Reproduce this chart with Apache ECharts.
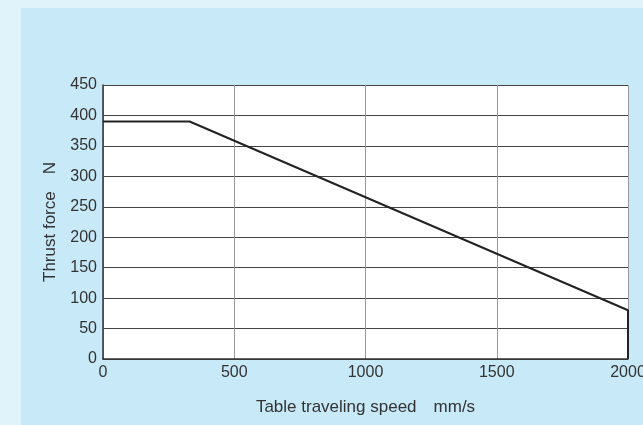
<!DOCTYPE html>
<html>
<head>
<meta charset="utf-8">
<script src="https://cdn.jsdelivr.net/npm/echarts@6/dist/echarts.min.js"></script>
<style>html,body{margin:0;padding:0;}#c{width:643px;height:425px;}</style>
</head>
<body>
<div id="c"></div>
<script>
const speed = [0, 330, 2000, 2000];
const thrust = [390, 390, 80, 0];
const xTicks = [0, 500, 1000, 1500, 2000];
const yTicks = [0, 50, 100, 150, 200, 250, 300, 350, 400, 450];
const xName = 'Table traveling speed\u2003mm/s';
const yName = 'Thrust force\u2003N';

const chart = echarts.init(document.getElementById('c'), null, {renderer: 'canvas'});
const font = 'Liberation Sans, Arial, Helvetica, sans-serif';
chart.setOption({
  backgroundColor: '#e0f2fa',
  animation: false,
  graphic: [{
    type: 'rect', z: -10, silent: true,
    shape: {x: 21, y: 8, width: 700, height: 500},
    style: {fill: '#c7e9f8'}
  }],
  grid: {left: 103, right: 15, top: 85, bottom: 66, show: true, backgroundColor: '#fff', borderWidth: 0,
         containLabel: false, outerBoundsMode: 'none'},
  xAxis: {
    type: 'value', min: xTicks[0], max: xTicks[xTicks.length - 1], interval: xTicks[1] - xTicks[0],
    name: xName, nameLocation: 'middle', nameGap: 40,
    nameTextStyle: {color: '#333', fontSize: 17, fontFamily: font},
    axisLine: {show: true, lineStyle: {color: '#333', width: 1.5}},
    axisTick: {show: false},
    axisLabel: {color: '#333', fontSize: 16, fontFamily: font, margin: 6, formatter: v => String(v)},
    splitLine: {show: true, lineStyle: {color: '#999', width: 1}}
  },
  yAxis: {
    type: 'value', min: yTicks[0], max: yTicks[yTicks.length - 1], interval: yTicks[1] - yTicks[0],
    name: yName, nameLocation: 'middle', nameGap: 44, nameRotate: 90,
    nameTextStyle: {color: '#333', fontSize: 17, fontFamily: font},
    axisLine: {show: true, lineStyle: {color: '#333', width: 1.5}},
    axisTick: {show: false},
    axisLabel: {color: '#333', fontSize: 16, fontFamily: font, margin: 6, formatter: v => String(v)},
    splitLine: {show: true, lineStyle: {color: '#444', width: 1}}
  },
  series: [{
    type: 'line',
    data: speed.map((s, i) => [s, thrust[i]]),
    symbol: 'none',
    lineStyle: {color: '#222', width: 2},
    z: 5
  }]
});
</script>
</body>
</html>
